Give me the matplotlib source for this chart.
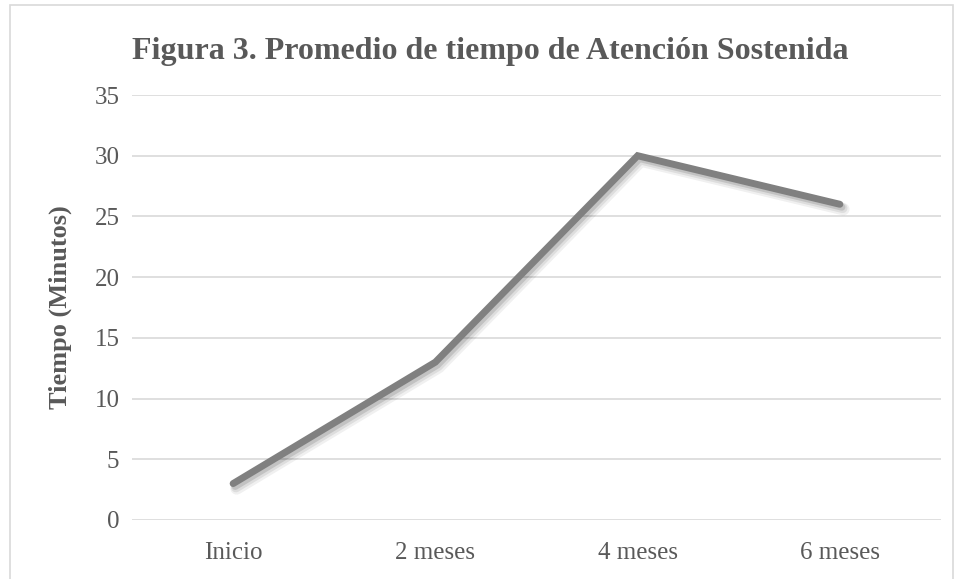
import matplotlib.pyplot as plt
import matplotlib.patheffects as pe
from matplotlib.patches import Rectangle

# data
categorias = ["Inicio", "2 meses", "4 meses", "6 meses"]
tiempo = [3, 13, 30, 26]
y_ticks = [0, 5, 10, 15, 20, 25, 30, 35]

plt.rcParams['font.family'] = ['Liberation Serif', 'DejaVu Serif']
texto = '#595959'

fig = plt.figure(figsize=(9.58, 5.79), dpi=100)
ax = fig.add_axes([132 / 958, 1 - 520 / 579, (941 - 132) / 958, (520 - 95) / 579])

# outer chart frame
fig.patches.append(Rectangle((10 / 958, -0.05), 943 / 958, 1.05 - 5 / 579,
                             transform=fig.transFigure, fill=False,
                             edgecolor='#d9d9d9', linewidth=1.2))

x = list(range(len(categorias)))
# soft shadow under the line
sombra = [pe.SimpleLineShadow(offset=(o, -o * 1.4), shadow_color='black', alpha=a, linewidth=lw)
          for o, a, lw in [(2.5, 0.06, 9), (2, 0.08, 7), (1.5, 0.12, 5)]]
ax.plot(x, tiempo, color='#808080', linewidth=5, solid_capstyle='round',
        solid_joinstyle='miter', path_effects=sombra + [pe.Normal()])

ax.set_xlim(-0.5, len(categorias) - 0.5)
ax.set_ylim(0, 35)
ax.set_yticks(y_ticks)
ax.set_xticks(x)
ax.set_xticklabels(categorias)
ax.tick_params(axis='both', length=0, labelsize=18, colors=texto)
ax.tick_params(axis='x', pad=16)
ax.tick_params(axis='y', pad=9)
ax.yaxis.grid(True, color='#d9d9d9', linewidth=1.2)
ax.set_axisbelow(True)
for s in ax.spines.values():
    s.set_visible(False)

ax.set_ylabel("Tiempo (Minutos)", fontsize=19, fontweight='bold', color=texto)
ax.yaxis.set_label_coords(-0.074, 0.5)
fig.text(490 / 958, 1 - 52 / 579, "Figura 3. Promedio de tiempo de Atención Sostenida",
         ha='center', va='center', fontsize=23, fontweight='bold', color=texto)

fig.savefig('out.png', dpi=100)
